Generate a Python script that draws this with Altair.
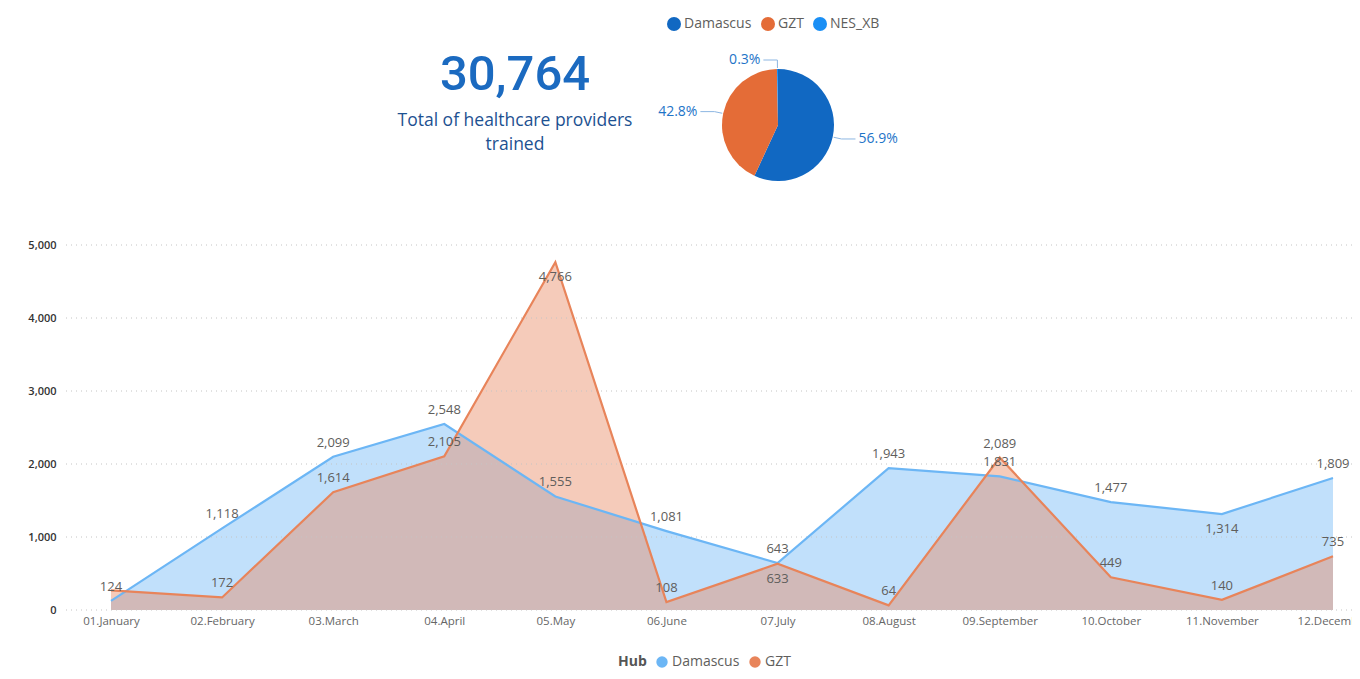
import altair as alt
import pandas as pd

# ---------------- data ----------------
months = ["01.January", "02.February", "03.March", "04.April", "05.May", "06.June",
          "07.July", "08.August", "09.September", "10.October", "11.November", "12.December"]
damascus = [124, 1118, 2099, 2548, 1555, 1081, 643, 1943, 1831, 1477, 1314, 1809]
gzt = [270, 172, 1614, 2105, 4766, 108, 633, 64, 2089, 449, 140, 735]

hubs = ["Damascus", "GZT", "NES_XB"]
hub_totals = [17505, 13167, 92]

y_ticks = [0, 1000, 2000, 3000, 4000, 5000]
subtitle_lines = ["Total of healthcare providers", "trained"]

# ---------------- style ----------------
FONT = "Segoe UI, Open Sans, sans-serif"
NUM_FONT = "Roboto"
LABEL_GREY = "#605E5C"
BELOW = {("Damascus", "11.November"), ("GZT", "05.May"), ("GZT", "07.July")}
HIDDEN = {("GZT", "01.January")}

long = pd.DataFrame({
    "month": months * 2,
    "hub": ["Damascus"] * len(months) + ["GZT"] * len(months),
    "value": damascus + gzt,
})
long["pos"] = ["below" if (h, m) in BELOW else "above" for h, m in zip(long.hub, long.month)]
long["show"] = [(h, m) not in HIDDEN for h, m in zip(long.hub, long.month)]

x_enc = alt.X(
    "month:N", sort=months,
    scale=alt.Scale(type="point", range=[45, 1267], padding=0),
    axis=alt.Axis(title=None, labelAngle=0, ticks=False, domain=False, grid=False,
                  labelColor="#666666", labelFont=FONT, labelFontSize=11.5, labelPadding=5),
)
y_scale = alt.Scale(domain=[0, 5000], nice=False)
y_axis = alt.Axis(title=None, values=y_ticks, format=",.0f", ticks=False, domain=False, grid=False,
                  labelColor="#333333", labelFont=FONT, labelFontSize=11, labelFontWeight=600,
                  labelPadding=10)
y_enc = alt.Y("value:Q", stack=None, scale=y_scale, axis=y_axis)
area_color = alt.Scale(domain=["Damascus", "GZT"], range=["#6CB6F5", "#E8845A"])

grid = alt.Chart(pd.DataFrame({"value": y_ticks})).mark_rule(
    color="#C4C4C4", strokeDash=[1, 4], strokeWidth=1
).encode(y=alt.Y("value:Q", scale=y_scale, axis=y_axis))

base = alt.Chart(long)
area = base.mark_area(opacity=0.42).encode(
    x=x_enc, y=y_enc,
    color=alt.Color("hub:N", scale=area_color, legend=alt.Legend(
        title="Hub", orient="none", legendX=552, legendY=410, direction="horizontal",
        titleOrient="left", titleFont=FONT, titleFontSize=14, titleFontWeight="bold",
        titleColor="#555555", titlePadding=8, labelFont=FONT, labelFontSize=14,
        labelColor=LABEL_GREY, symbolType="circle", symbolSize=130, symbolOpacity=1,
        symbolStrokeWidth=0, labelOffset=3, columnPadding=8)),
)
line = base.mark_line(strokeWidth=2.2).encode(
    x=x_enc, y=y_enc, color=alt.Color("hub:N", scale=area_color, legend=None),
)
text_common = dict(font=FONT, fontSize=13, color=LABEL_GREY, baseline="middle", align="center")
labels_above = base.transform_filter("datum.show && datum.pos == 'above'").mark_text(dy=-14, **text_common).encode(
    x=x_enc, y=y_enc, text=alt.Text("value:Q", format=","),
)
labels_below = base.transform_filter("datum.show && datum.pos == 'below'").mark_text(dy=15, **text_common).encode(
    x=x_enc, y=y_enc, text=alt.Text("value:Q", format=","),
)
trend = alt.layer(area, grid, line, labels_above, labels_below)

# ---------------- pie ----------------
pie_df = pd.DataFrame({"hub": hubs, "total": hub_totals})
CX, CY, R = 712, -120, 56
pie_base = alt.Chart(pie_df).transform_joinaggregate(
    grand="sum(total)"
).transform_window(
    cum="sum(total)", sort=[alt.SortField("hub")], frame=[None, 0]
).transform_calculate(
    pct="datum.total / datum.grand",
    mid="2 * PI * (datum.cum - datum.total / 2) / datum.grand",
).transform_calculate(
    side="sin(datum.mid) >= 0 ? 1 : -1",
    x0=f"{CX} + {R + 1} * sin(datum.mid)", y0=f"{CY} - {R + 1} * cos(datum.mid)",
    x1=f"{CX} + {R + 9} * sin(datum.mid)", y1=f"{CY} - {R + 9} * cos(datum.mid)",
).transform_calculate(
    x2="datum.x1 + datum.side * 14",
).transform_calculate(
    tx="datum.x2 + datum.side * 3",
)
arc = pie_base.mark_arc(outerRadius=R, strokeWidth=0).encode(
    theta=alt.Theta("total:Q", stack=True),
    order=alt.Order("hub:N"),
    color=alt.Color("hub:N", scale=alt.Scale(domain=hubs, range=["#1168C2", "#E46C37", "#1A8FF5"]),
                    legend=alt.Legend(title=None, orient="none", legendX=601, legendY=-228,
                                      direction="horizontal", labelFont=FONT, labelFontSize=14,
                                      labelColor=LABEL_GREY, symbolType="circle", symbolSize=196,
                                      symbolStrokeWidth=0, labelOffset=3, columnPadding=9)),
    x=alt.value(CX), y=alt.value(CY),
)
LEADER = "#8DB6E2"
leader_radial = pie_base.mark_rule(color=LEADER, strokeWidth=1).encode(
    x=alt.X("x0:Q", scale=None, axis=None), y=alt.Y("y0:Q", scale=None, axis=None),
    x2="x1:Q", y2="y1:Q",
)
leader_flat = pie_base.mark_rule(color=LEADER, strokeWidth=1).encode(
    x=alt.X("x1:Q", scale=None, axis=None), y=alt.Y("y1:Q", scale=None, axis=None),
    x2="x2:Q", y2="y1:Q",
)
lbl = dict(font=FONT, fontSize=14, color="#1E74C8", baseline="middle")
pie_lbl_right = pie_base.transform_filter("datum.side > 0").mark_text(align="left", **lbl).encode(
    x=alt.X("tx:Q", scale=None, axis=None), y=alt.Y("y1:Q", scale=None, axis=None),
    text=alt.Text("pct:Q", format=".1%"),
)
pie_lbl_left = pie_base.transform_filter("datum.side < 0").mark_text(align="right", **lbl).encode(
    x=alt.X("tx:Q", scale=None, axis=None), y=alt.Y("y1:Q", scale=None, axis=None),
    text=alt.Text("pct:Q", format=".1%"),
)
pie = alt.layer(arc, leader_radial, leader_flat, pie_lbl_right, pie_lbl_left)

# ---------------- KPI card ----------------
kpi_df = pd.DataFrame({"total": [sum(hub_totals)]})
kpi = alt.Chart(kpi_df).mark_text(font=NUM_FONT, fontSize=49, fontWeight=500, color="#1B6AC0",
                                  baseline="alphabetic", align="center").encode(
    text=alt.Text("total:Q", format=","), x=alt.value(449), y=alt.value(-155),
)
kpi_sub = alt.Chart(kpi_df).mark_text(text=subtitle_lines, font=FONT, fontSize=17.5, lineHeight=24,
                                      color="#1D5191", baseline="alphabetic", align="center").encode(
    x=alt.value(449), y=alt.value(-119),
)

chart = alt.layer(
    trend, pie, kpi, kpi_sub
).resolve_scale(color="independent", x="independent", y="independent").properties(
    width=1286, height=365,
    autosize=alt.AutoSizeParams(type="none"),
    padding={"left": 58, "top": 237, "right": 0, "bottom": 61},
).configure_view(stroke="transparent", strokeWidth=0).configure_axis(
    domain=False, ticks=False, grid=False
).configure(background="white", style={"cell": {"stroke": "transparent"}})

chart.save("out.html", embed_options={"renderer": "svg", "actions": False})
